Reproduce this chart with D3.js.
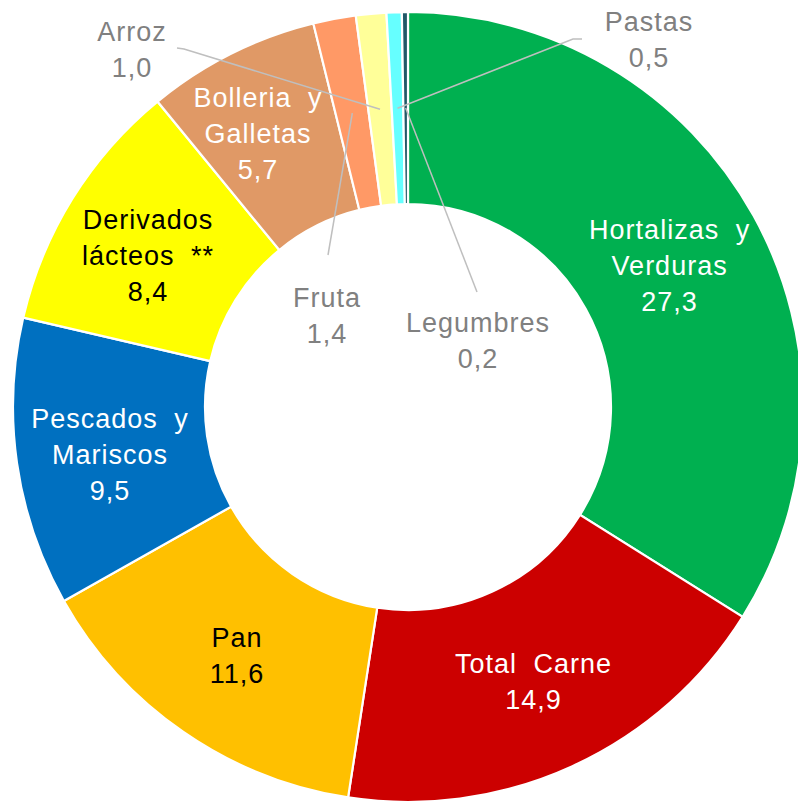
<!DOCTYPE html>
<html>
<head>
<meta charset="utf-8">
<script src="https://cdn.jsdelivr.net/npm/d3@7"></script>
<style>
  html, body { margin: 0; padding: 0; background: #fff; }
  svg { display: block; }
  .label { font-family: "Liberation Sans", Arial, sans-serif; font-size: 27px; letter-spacing: 1px; word-spacing: 8px; }
</style>
</head>
<body>
<div id="chart"></div>
<script>
// Data
const categories = ['Hortalizas y Verduras', 'Total Carne', 'Pan', 'Pescados y Mariscos',
  'Derivados lácteos **', 'Bolleria y Galletas', 'Fruta', 'Arroz', 'Pastas', 'Legumbres'];
const values = [27.3, 14.9, 11.6, 9.5, 8.4, 5.7, 1.4, 1.0, 0.5, 0.2];
const labelLines = [
  ['Hortalizas y', 'Verduras'],
  ['Total Carne'],
  ['Pan'],
  ['Pescados y', 'Mariscos'],
  ['Derivados', 'lácteos **'],
  ['Bolleria y', 'Galletas'],
  ['Fruta'],
  ['Arroz'],
  ['Pastas'],
  ['Legumbres']
];

// Styling / layout config
const config = {
  width: 798, height: 803,
  cx: 408, cy: 407,
  outer: 395, inner: 203,
  lineHeight: 36
};
const colors = ['#00B050', '#CC0000', '#FFC000', '#0070C0', '#FFFF00',
  '#E09966', '#FF9966', '#FFFF99', '#66FFFF', '#215968'];
const textColors = ['#fff', '#fff', '#000', '#fff', '#000', '#fff', '#808080', '#808080', '#808080', '#808080'];

// label placement: inside labels shift from centroid; outside labels get absolute spot + leader start
const labelLayout = {
  'Hortalizas y Verduras': {dx: 0, dy: 3},
  'Total Carne': {dx: 1, dy: 3},
  'Pan': {dx: -1, dy: 3},
  'Pescados y Mariscos': {dx: -2, dy: 5},
  'Derivados lácteos **': {dx: -6, dy: 6},
  'Bolleria y Galletas': {dx: -16, dy: -6},
  'Fruta': {x: 327, y: 316, leader: [[1, -61]]},
  'Arroz': {x: 132, y: 50, leader: [[45, -2], [52, -1]]},
  'Pastas': {x: 649, y: 40, leader: [[-67, -1], [-76, -1]]},
  'Legumbres': {x: 478, y: 341, leader: [[-1, -49]]}
};

const color = d3.scaleOrdinal().domain(categories).range(colors);
const textColor = d3.scaleOrdinal().domain(categories).range(textColors);
const fmt = v => d3.format('.1f')(v).replace('.', ',');

const rows = categories.map((c, i) => ({name: c, value: values[i], lines: labelLines[i]}));

const svg = d3.select('#chart').append('svg')
    .attr('width', config.width)
    .attr('height', config.height);

const g = svg.append('g')
    .attr('transform', `translate(${config.cx},${config.cy})`);

const pie = d3.pie().sort(null).value(d => d.value);
const arcs = pie(rows);

const arc = d3.arc().innerRadius(config.inner).outerRadius(config.outer);
const midArc = d3.arc().innerRadius(299).outerRadius(299);

g.selectAll('.slice')
    .data(arcs)
  .join('path')
    .attr('class', 'slice')
    .attr('d', arc)
    .attr('fill', d => color(d.data.name))
    .attr('stroke', '#fff')
    .attr('stroke-width', 2.2);

// Leader lines for the small slices
const outside = arcs.filter(d => labelLayout[d.data.name].leader);
g.selectAll('.leader')
    .data(outside)
  .join('polyline')
    .attr('class', 'leader')
    .attr('fill', 'none')
    .attr('stroke', '#BFBFBF')
    .attr('stroke-width', 1.5)
    .attr('points', d => {
      const L = labelLayout[d.data.name];
      const pts = L.leader.map(p => [L.x + p[0] - config.cx, L.y + p[1] - config.cy]);
      pts.push(midArc.centroid(d));
      return pts.map(p => p.join(',')).join(' ');
    });

// Labels
const labels = g.selectAll('.label')
    .data(arcs)
  .join('text')
    .attr('class', 'label')
    .attr('text-anchor', 'middle')
    .attr('fill', d => textColor(d.data.name))
    .attr('transform', d => {
      const L = labelLayout[d.data.name];
      let x, y;
      if (L.leader) {
        x = L.x - config.cx; y = L.y - config.cy;
      } else {
        const c = midArc.centroid(d);
        x = c[0] + L.dx; y = c[1] + L.dy;
      }
      return `translate(${x},${y})`;
    });

labels.each(function(d) {
  const lines = d.data.lines.concat([fmt(d.data.value)]);
  const n = lines.length;
  d3.select(this).selectAll('tspan')
      .data(lines)
    .join('tspan')
      .attr('x', 0)
      .attr('y', (t, i) => (i - (n - 1) / 2) * config.lineHeight)
      .attr('dy', '0.35em')
      .text(t => t);
});
</script>
</body>
</html>
